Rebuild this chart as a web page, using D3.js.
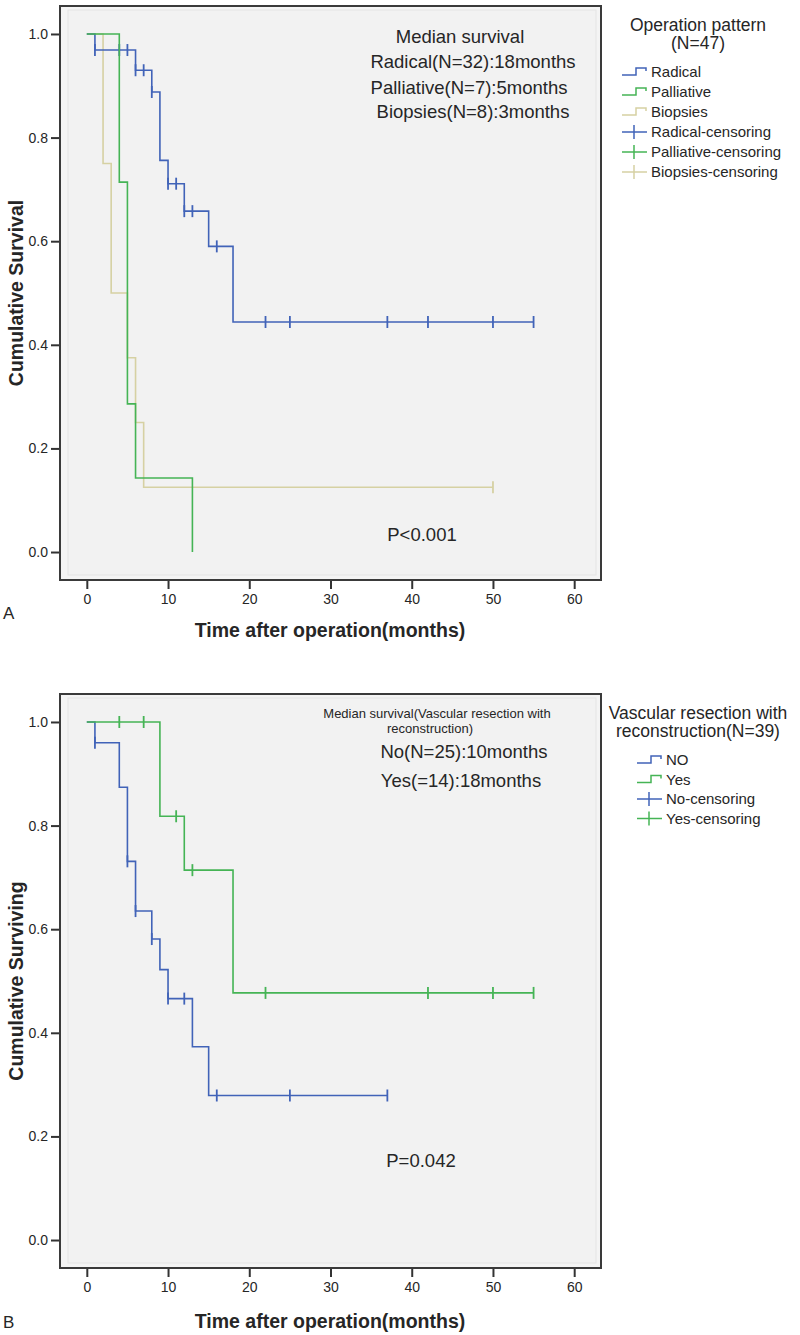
<!DOCTYPE html>
<html>
<head>
<meta charset="utf-8">
<script src="https://cdn.jsdelivr.net/npm/d3@7"></script>
<style>
  body { margin: 0; background: #fff; }
  svg text { font-family: "Liberation Sans", Arial, sans-serif; fill: #262626; }
</style>
</head>
<body>
<div id="chart"></div>
<script>
// ---- Panel A: operation pattern ----
const radicalTimes = [0, 1, 6, 8, 9, 10, 12, 15, 18];
const radicalSurv = [1.0, 0.969, 0.930, 0.888, 0.756, 0.711, 0.658, 0.590, 0.444];
const radicalEnd = 55;
const radicalCensored = [1, 4, 5, 6, 7, 8, 10, 11, 12, 13, 16, 22, 25, 37, 42, 50, 55];

const palliativeTimes = [0, 4, 5, 6, 13];
const palliativeSurv = [1.0, 0.714, 0.286, 0.143, 0.0];
const palliativeEnd = 13;
const palliativeCensored = [];

const biopsyTimes = [0, 2, 3, 5, 6, 7];
const biopsySurv = [1.0, 0.75, 0.5, 0.375, 0.25, 0.125];
const biopsyEnd = 50;
const biopsyCensored = [50];

// ---- Panel B: vascular resection with reconstruction ----
const noTimes = [0, 1, 4, 5, 6, 8, 9, 10, 13, 15];
const noSurv = [1.0, 0.96, 0.874, 0.731, 0.635, 0.581, 0.522, 0.466, 0.373, 0.279];
const noEnd = 37;
const noCensored = [1, 5, 6, 8, 10, 12, 16, 25, 37];

const yesTimes = [0, 9, 12, 18];
const yesSurv = [1.0, 0.818, 0.714, 0.477];
const yesEnd = 55;
const yesCensored = [4, 7, 11, 13, 22, 42, 50, 55];

// ticks and labels
const xTicks = [0, 10, 20, 30, 40, 50, 60];
const yTicks = [0.0, 0.2, 0.4, 0.6, 0.8, 1.0];
const legendLabelsA = ["Radical", "Palliative", "Biopsies", "Radical-censoring", "Palliative-censoring", "Biopsies-censoring"];
const legendLabelsB = ["NO", "Yes", "No-censoring", "Yes-censoring"];

const blue = "#4163b8", green = "#45b455", tan = "#d6d1a3";

const svg = d3.select("#chart").append("svg")
  .attr("width", 800)
  .attr("height", 1335);

const frameLeft = 60, frameWidth = 541, frameHeight = 574;

// survival value at time t for a step curve
const valueAt = (s, t) => s.surv[Math.max(0, d3.bisectRight(s.times, t) - 1)];

function drawPanel(p) {
  const g = svg.append("g").attr("transform", `translate(${frameLeft}, ${p.top})`);

  const x = d3.scaleLinear().domain([-3.3, 63.3]).range([0, frameWidth]);
  const y = d3.scaleLinear().domain([-0.054, 1.054]).range([frameHeight, 0]);

  // plot background + faint inner border
  g.append("rect")
    .attr("width", frameWidth).attr("height", frameHeight)
    .attr("fill", "#f4f4f4");
  g.append("rect")
    .attr("x", 8).attr("y", 4)
    .attr("width", frameWidth - 13).attr("height", frameHeight - 9)
    .attr("fill", "#f2f2f2").attr("stroke", "#e4e4e4");

  // step curves
  const line = d3.line()
    .x(d => x(d[0]))
    .y(d => y(d[1]))
    .curve(d3.curveStepAfter);

  p.series.forEach(s => {
    const pts = s.times.map((t, i) => [t, s.surv[i]]);
    pts.push([s.end, s.surv[s.surv.length - 1]]);
    g.append("path")
      .attr("d", line(pts))
      .attr("fill", "none")
      .attr("stroke", s.color)
      .attr("stroke-width", 1.6);

    g.selectAll(null)
      .data(s.censored)
      .enter()
      .append("line")
      .attr("x1", d => x(d)).attr("x2", d => x(d))
      .attr("y1", d => y(valueAt(s, d)) - 6)
      .attr("y2", d => y(valueAt(s, d)) + 6)
      .attr("stroke", s.color)
      .attr("stroke-width", 1.8);
  });

  // frame
  g.append("rect")
    .attr("width", frameWidth).attr("height", frameHeight)
    .attr("fill", "none").attr("stroke", "#3a3a3a").attr("stroke-width", 2);

  // axes
  const yAxis = g.append("g")
    .attr("transform", "translate(-1,0)")
    .call(d3.axisLeft(y).tickValues(yTicks).tickFormat(d3.format(".1f")).tickSize(8).tickPadding(3));
  const xAxis = g.append("g")
    .attr("transform", `translate(0, ${frameHeight + 1})`)
    .call(d3.axisBottom(x).tickValues(xTicks).tickSize(8).tickPadding(5));
  [xAxis, yAxis].forEach(a => {
    a.select(".domain").remove();
    a.selectAll(".tick line").attr("stroke", "#333").attr("stroke-width", 2);
    a.selectAll(".tick text")
      .attr("font-size", "14px")
      .attr("font-family", "'Liberation Sans', Arial, sans-serif")
      .attr("fill", "#3a3a3a");
  });

  // axis titles
  svg.append("text")
    .attr("x", 330).attr("y", p.top + p.titleOffset)
    .attr("text-anchor", "middle")
    .attr("font-size", "19.5px").attr("font-weight", "bold")
    .text("Time after operation(months)");
  svg.append("text")
    .attr("transform", `translate(23, ${p.top + frameHeight / 2}) rotate(-90)`)
    .attr("text-anchor", "middle")
    .attr("font-size", "19.5px").attr("font-weight", "bold")
    .text(p.yTitle);

  // panel letter
  svg.append("text")
    .attr("x", 3).attr("y", p.top + p.letterOffset)
    .attr("font-size", "17px")
    .text(p.letter);

  // annotations inside the plot
  p.notes.forEach(n => {
    svg.append("text")
      .attr("x", n.x).attr("y", n.y)
      .attr("text-anchor", "middle")
      .attr("font-size", n.size)
      .attr("fill", "#333")
      .text(n.text);
  });

  // legend
  const lg = svg.append("g");
  p.legendTitle.forEach((t, i) => {
    lg.append("text")
      .attr("x", p.legend.cx).attr("y", p.legend.titleY + i * p.legend.titleStep)
      .attr("text-anchor", "middle")
      .attr("font-size", "17.5px")
      .text(t);
  });
  p.legendItems.forEach((it, i) => {
    const cy = p.legend.itemY + i * p.legend.itemStep;
    const sx = p.legend.symX;
    if (it.type === "step") {
      lg.append("path")
        .attr("d", `M${sx},${cy + 3}H${sx + 14}V${cy - 4}H${sx + 24}V${cy - 1}`)
        .attr("fill", "none").attr("stroke", it.color).attr("stroke-width", 1.5);
    } else {
      lg.append("line")
        .attr("x1", sx).attr("x2", sx + 25).attr("y1", cy).attr("y2", cy)
        .attr("stroke", it.color).attr("stroke-width", 1.5);
      lg.append("line")
        .attr("x1", sx + 12).attr("x2", sx + 12).attr("y1", cy - 7).attr("y2", cy + 7)
        .attr("stroke", it.color).attr("stroke-width", 1.5);
    }
    lg.append("text")
      .attr("x", sx + 29).attr("y", cy + 5)
      .attr("font-size", "15px")
      .text(it.label);
  });
}

// Panel A
drawPanel({
  top: 6,
  letter: "A",
  letterOffset: 613,
  titleOffset: 631,
  yTitle: "Cumulative Survival",
  series: [
    { times: biopsyTimes, surv: biopsySurv, end: biopsyEnd, censored: biopsyCensored, color: tan },
    { times: radicalTimes, surv: radicalSurv, end: radicalEnd, censored: radicalCensored, color: blue },
    { times: palliativeTimes, surv: palliativeSurv, end: palliativeEnd, censored: palliativeCensored, color: green }
  ],
  notes: [
    { text: "Median survival", x: 460, y: 43, size: "18.5px" },
    { text: "Radical(N=32):18months", x: 473, y: 68, size: "18.5px" },
    { text: "Palliative(N=7):5months", x: 469, y: 94, size: "18.5px" },
    { text: "Biopsies(N=8):3months", x: 473, y: 118, size: "18.5px" },
    { text: "P<0.001", x: 422, y: 541, size: "18.5px" }
  ],
  legendTitle: ["Operation pattern", "(N=47)"],
  legend: { cx: 698, titleY: 31, titleStep: 18, itemY: 72, itemStep: 20, symX: 622 },
  legendItems: legendLabelsA.map((l, i) => ({
    label: l,
    type: i < 3 ? "step" : "censor",
    color: [blue, green, tan][i % 3]
  }))
});

// Panel B
drawPanel({
  top: 694,
  letter: "B",
  letterOffset: 634,
  titleOffset: 634,
  yTitle: "Cumulative Surviving",
  series: [
    { times: noTimes, surv: noSurv, end: noEnd, censored: noCensored, color: blue },
    { times: yesTimes, surv: yesSurv, end: yesEnd, censored: yesCensored, color: green }
  ],
  notes: [
    { text: "Median survival(Vascular resection with", x: 437, y: 718, size: "13px" },
    { text: "reconstruction)", x: 430, y: 733, size: "13px" },
    { text: "No(N=25):10months", x: 464, y: 758, size: "18.5px" },
    { text: "Yes(=14):18months", x: 461, y: 787, size: "18.5px" },
    { text: "P=0.042", x: 421, y: 1167, size: "18.5px" }
  ],
  legendTitle: ["Vascular resection with", "reconstruction(N=39)"],
  legend: { cx: 698, titleY: 719, titleStep: 18, itemY: 760, itemStep: 19.5, symX: 637 },
  legendItems: legendLabelsB.map((l, i) => ({
    label: l,
    type: i < 2 ? "step" : "censor",
    color: [blue, green][i % 2]
  }))
});
</script>
</body>
</html>
